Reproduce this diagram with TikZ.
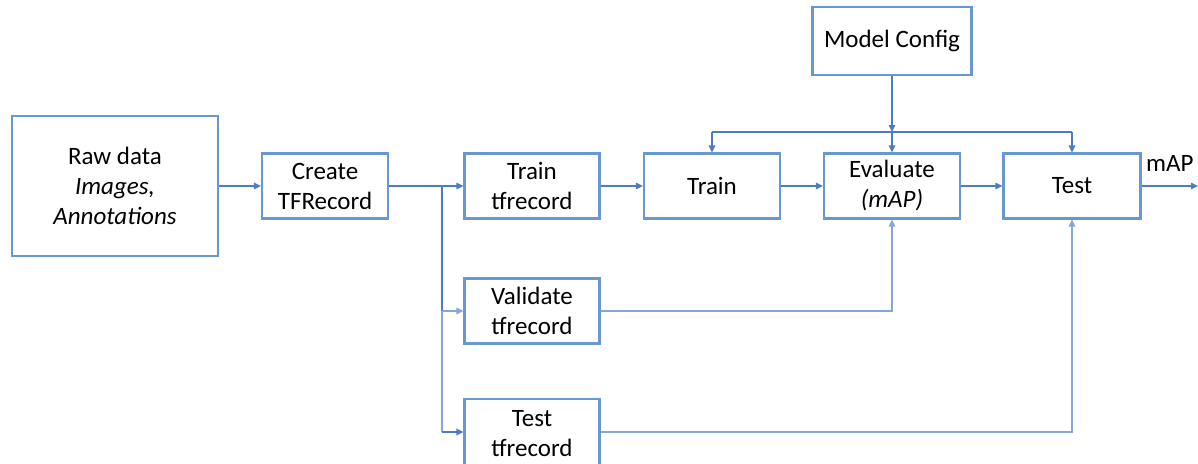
\documentclass[tikz,border=0pt]{standalone}
\usepackage{fontspec}
\setmainfont{Carlito}
\usetikzlibrary{arrows.meta}
\definecolor{boxblue}{RGB}{104,152,208}
\definecolor{lineblue}{RGB}{76,124,198}
\definecolor{paleline}{RGB}{134,166,214}
\tikzset{
  stage/.style={draw=boxblue, line width=2.2pt, fill=white, align=center,
    inner sep=0pt, font=\fontsize{25}{30}\selectfont},
  flow/.style={draw=lineblue, line width=1.4pt, -{Triangle[length=7pt,width=6.5pt]}},
  plain/.style={draw=lineblue, line width=1.4pt},
  paleflow/.style={draw=paleline, line width=1.4pt, -{Triangle[length=7pt,width=6.5pt]}},
}
\begin{document}
\begin{tikzpicture}[x=1pt, y=-1pt]
\useasboundingbox (0,0) rectangle (1198,463);
\begin{scope}
\clip (0,0) rectangle (1198,463);

% processing stages
\node[stage, minimum width=206, minimum height=140] (raw) at (115,186)
  {Raw data\\\itshape Images,\\\itshape Annotations};
\node[stage, minimum width=126, minimum height=65] (create) at (325,186)
  {Create\\TFRecord};
\node[stage, minimum width=135, minimum height=65] (trainrec) at (532,186)
  {Train\\tfrecord};
\node[stage, minimum width=135, minimum height=65] (valrec) at (532,311)
  {Validate\\tfrecord};
\node[stage, minimum width=135, minimum height=70] (testrec) at (532,434)
  {Test\\tfrecord};
\node[stage, minimum width=136, minimum height=65] (train) at (712,186) {Train};
\node[stage, minimum width=136, minimum height=65] (eval) at (892,186)
  {Evaluate\\\itshape (mAP)};
\node[stage, minimum width=137, minimum height=65] (test) at (1072,186) {Test};
\node[stage, minimum width=159, minimum height=68] (config) at (892,41)
  {Model Config};

% junction points
\coordinate (split) at (442,186);
\coordinate (testin) at (442,432);
\coordinate (cfgjoin) at (892,132);
\coordinate (cfgleft) at (712,132);
\coordinate (cfgright) at (1072,132);
\coordinate (out) at (1198,186);
\node[font=\fontsize{25}{30}\selectfont, anchor=west, inner sep=0pt] (maplabel)
  at (1146,163) {mAP};

% data flow
\draw[flow] (raw.east) -- (create.west);
\draw[plain] (create.east) -- (split);
\draw[flow] (split) -- (trainrec.west);
\draw[plain] (split) -- (split |- valrec.west);
\draw[paleflow] (split |- valrec.west) -- (valrec.west);
\draw[draw=paleline, line width=1.4pt] (split |- valrec.west) -- (testin);
\draw[flow] (testin) -- (testrec.west |- testin);
\draw[flow] (trainrec.east) -- (train.west);
\draw[flow] (train.east) -- (eval.west);
\draw[flow] (eval.east) -- (test.west);
\draw[flow] (test.east) -- (out);

% model configuration feeds every stage
\draw[flow] (config.south) -- (cfgjoin);
\draw[plain] (cfgleft) -- (cfgright);
\draw[flow] (cfgleft) -- (train.north);
\draw[flow] (cfgjoin) -- (eval.north);
\draw[flow] (cfgright) -- (test.north);

% validation and test records
\draw[paleflow] (valrec.east) -| (eval.south);
\draw[paleflow] (testrec.east |- testin) -| (test.south);
\end{scope}
\end{tikzpicture}
\end{document}
